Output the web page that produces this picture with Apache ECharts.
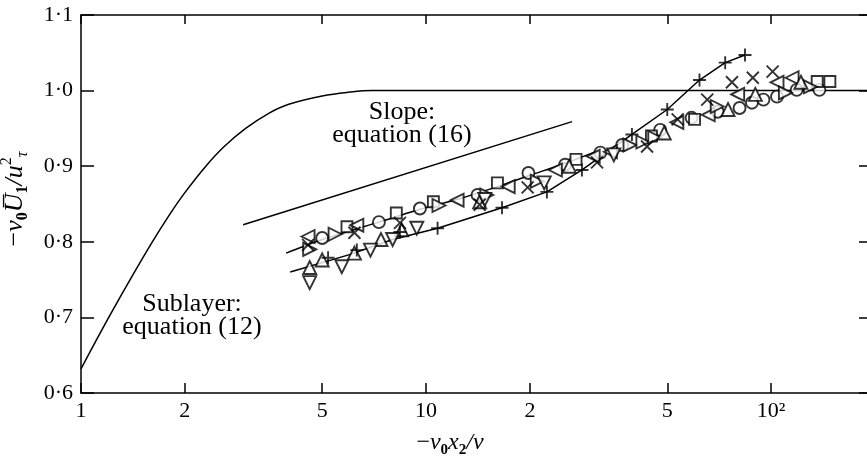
<!DOCTYPE html>
<html><head><meta charset="utf-8">
<script src="https://cdn.jsdelivr.net/npm/echarts@6/dist/echarts.min.js"></script>
<style>html,body{margin:0;padding:0;background:#fff}#c{width:867px;height:458px}</style>
</head><body><div id="c"></div>
<script>
// Axis ticks
const xTickValues = [1, 2, 5, 10, 20, 50, 100];
const xTickLabels = ['1', '2', '5', '10', '2', '5', '10²'];
const yTickValues = [0.6, 0.7, 0.8, 0.9, 1.0, 1.1];
const yTickLabels = ['0·6', '0·7', '0·8', '0·9', '1·0', '1·1'];

// Sublayer curve, equation (12)
const sublayerCurve = [[1, 0.632], [1.2, 0.699], [1.4, 0.753], [1.6, 0.798], [1.8, 0.835], [2, 0.865], [2.3, 0.9], [2.6, 0.926], [3, 0.95], [3.5, 0.97], [4, 0.982], [5, 0.993], [6, 0.998], [7, 1.0], [200, 1.0]];
// Slope line, equation (16)
const slopeLine = [[2.95, 0.8225], [26.5, 0.959]];
// Fitted lines through data
const upperFit = [[3.93, 0.785], [5.0, 0.803], [7.3, 0.826], [9.6, 0.843], [12.5, 0.857], [16.1, 0.873], [20, 0.888], [25, 0.903], [31.3, 0.92]];
const lowerFit = [[4.04, 0.760], [6.0, 0.783], [8.0, 0.803], [10.8, 0.818], [16.6, 0.845], [22.4, 0.866], [28.3, 0.895], [39.5, 0.942], [50, 0.975], [62, 1.014], [73.6, 1.037], [84, 1.047]];

// Data points by symbol
const circles = [[5.0, 0.805], [7.3, 0.826], [9.6, 0.844], [14.1, 0.862], [19.8, 0.891], [25.3, 0.902], [32, 0.918], [37, 0.928], [47.7, 0.948], [58.8, 0.964], [70, 0.972], [81, 0.977], [88, 0.984], [95, 0.988], [104, 0.992], [118.6, 1.001], [138, 1.001]];
const squares = [[5.9, 0.82], [8.2, 0.838], [10.5, 0.853], [16.1, 0.878], [27.2, 0.909], [45, 0.94], [60, 0.962], [136, 1.012], [148, 1.012]];
const triLeft = [[4.55, 0.807], [6.3, 0.822], [12.3, 0.855], [17.3, 0.873], [23.7, 0.895], [30.5, 0.913], [34.2, 0.919], [53.3, 0.958], [65.7, 0.968], [80, 0.995], [104, 1.011], [115, 1.017]];
const triRight = [[4.6, 0.79], [5.45, 0.81], [10.9, 0.848], [15, 0.862], [21, 0.88], [39, 0.928], [42.5, 0.932], [46, 0.938], [69.8, 0.979], [110, 0.997], [130, 1.005]];
const triUp = [[4.6, 0.766], [5.0, 0.776], [6.2, 0.785], [7.4, 0.803], [8.5, 0.816], [14.3, 0.853], [26, 0.9], [49, 0.944], [75, 0.975], [90, 0.995], [122, 1.011]];
const triDown = [[4.6, 0.746], [5.7, 0.767], [6.9, 0.789], [8.0, 0.803], [9.4, 0.818], [14.8, 0.856], [22, 0.878], [35, 0.915]];
const crosses = [[4.55, 0.796], [6.2, 0.812], [8.4, 0.825], [14.3, 0.849], [19.7, 0.872], [31.3, 0.905], [43.7, 0.926], [53.6, 0.962], [65.3, 0.988], [77, 1.011], [88.5, 1.017], [101, 1.025]];
const pluses = [[5.2, 0.779], [6.3, 0.789], [8.4, 0.813], [10.8, 0.818], [16.6, 0.845], [22.4, 0.866], [28.3, 0.895], [39.5, 0.942], [50, 0.975], [62, 1.014], [73.6, 1.037], [84, 1.047]];

const FONT = '"Liberation Serif", "DejaVu Serif", serif';
const chart = echarts.init(document.getElementById('c'), null, {renderer: 'canvas'});

function xLabel(v) {
  const i = xTickValues.findIndex(t => Math.abs(t - v) / t < 1e-6);
  return i >= 0 ? xTickLabels[i] : '';
}
function yLabel(v) {
  const i = yTickValues.findIndex(t => Math.abs(t - v) < 1e-6);
  return i >= 0 ? yTickLabels[i] : '';
}

const lineStyle = {color: '#000', width: 1.5};
function lineSeries(data, smooth) {
  return {type: 'line', data, showSymbol: false, symbol: 'none', smooth: smooth, lineStyle, z: 2, silent: true};
}
const markerStyle = {color: '#fff', borderColor: '#000', borderWidth: 1.9};
function scatter(data, symbol, size, rotate, hollow) {
  return {type: 'scatter', data, symbol, symbolSize: size, symbolRotate: rotate || 0, z: 3,
    itemStyle: hollow ? {color: 'rgba(0,0,0,0)', borderColor: '#000', borderWidth: 1.9} : markerStyle};
}

function nameRich(big, small) {
  return {
    m: {fontFamily: FONT, fontSize: big, lineHeight: big + 6, verticalAlign: 'middle', color: '#000'},
    i: {fontFamily: FONT, fontSize: big, fontStyle: 'italic', lineHeight: big + 6, verticalAlign: 'middle', color: '#000'},
    s: {fontFamily: FONT, fontSize: small, fontWeight: 'bold', lineHeight: small + 3, verticalAlign: 'bottom', color: '#000'},
    p: {fontFamily: FONT, fontSize: small, lineHeight: small + 3, verticalAlign: 'top', color: '#000'},
    si: {fontFamily: FONT, fontSize: small, fontStyle: 'italic', lineHeight: small + 3, verticalAlign: 'bottom', color: '#000'}
  };
}

const option = {
  backgroundColor: '#fff',
  animation: false,
  grid: {left: 81, top: 15, bottom: 65, right: -8, outerBoundsMode: 'none', containLabel: false},
  xAxis: [{
    type: 'log', logBase: 10, min: 1, max: 200,
    name: '{m|−}{i|v}{s|0}{i|x}{s|2}{i|/ν}', nameLocation: 'middle', nameGap: 35,
    nameTextStyle: {rich: nameRich(24, 15), padding: [0, 56, 0, 0]},
    axisLine: {show: true, lineStyle: {color: '#000', width: 1.5}},
    axisTick: {show: true, inside: true, length: 10, customValues: xTickValues, lineStyle: {color: '#000', width: 1.5}},
    axisLabel: {customValues: xTickValues, formatter: xLabel, fontFamily: FONT, fontSize: 22, color: '#000', margin: 7},
    minorTick: {show: false}, splitLine: {show: false}
  }, {
    type: 'log', logBase: 10, min: 1, max: 200, position: 'top',
    axisLine: {show: true, lineStyle: {color: '#000', width: 1.5}},
    axisTick: {show: true, inside: true, length: 9, customValues: xTickValues, lineStyle: {color: '#000', width: 1.5}},
    axisLabel: {show: false}, splitLine: {show: false}
  }],
  yAxis: [{
    type: 'value', min: 0.6, max: 1.1, interval: 0.1,
    name: '{m|−}{i|v}{s|0}{i|U\u0305}{s|1}{i|/u}{p|2}{si|τ}', nameLocation: 'middle', nameGap: 50, nameRotate: 90,
    nameTextStyle: {rich: nameRich(26, 16), padding: [0, 0, 0, 10]},
    axisLine: {show: true, lineStyle: {color: '#000', width: 1.5}},
    axisTick: {show: true, inside: true, length: 13, lineStyle: {color: '#000', width: 1.5}},
    axisLabel: {formatter: yLabel, fontFamily: FONT, fontSize: 22, color: '#000', margin: 8},
    splitLine: {show: false}
  }, {
    type: 'value', min: 0.6, max: 1.1, interval: 0.1, position: 'right',
    axisLine: {show: true, lineStyle: {color: '#000', width: 1.5}},
    axisTick: {show: true, inside: true, length: 16, lineStyle: {color: '#000', width: 1.5}},
    axisLabel: {show: false}, splitLine: {show: false}
  }],
  graphic: [
    {type: 'text', x: 402, y: 101, style: {text: 'Slope:\nequation (16)', font: '26px ' + FONT, fill: '#000', align: 'center', verticalAlign: 'top', lineHeight: 23}},
    {type: 'text', x: 192, y: 293, style: {text: 'Sublayer:\nequation (12)', font: '26px ' + FONT, fill: '#000', align: 'center', verticalAlign: 'top', lineHeight: 23}}
  ],
  series: [
    lineSeries(sublayerCurve, 0.4),
    lineSeries(slopeLine, false),
    lineSeries(upperFit, 0.2),
    lineSeries(lowerFit, false),
    scatter(circles, 'circle', 12),
    scatter(squares, 'rect', 11),
    scatter(triLeft, 'triangle', 13, 90),
    scatter(triRight, 'triangle', 13, -90),
    scatter(triUp, 'triangle', 13, 0),
    scatter(triDown, 'triangle', 13, 180),
    scatter(crosses, 'path://M0,0L10,10M10,0L0,10', 12, 0, true),
    scatter(pluses, 'path://M5,0L5,10M0,5L10,5', 13, 0, true)
  ]
};
chart.setOption(option);
</script></body></html>
